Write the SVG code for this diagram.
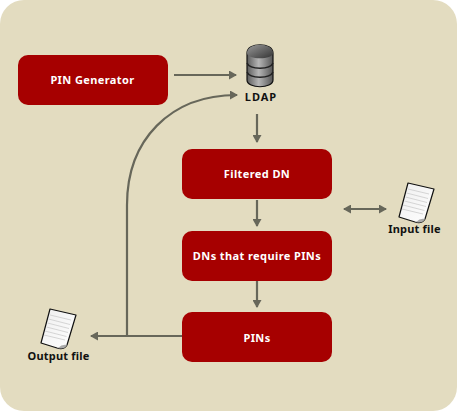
<svg xmlns="http://www.w3.org/2000/svg" width="457" height="411" viewBox="0 0 457 411">
<style>
.bg{fill:#e3dcc0}
.box{fill:#a60000}
.w{fill:#fff;font:bold 11px "Noto Sans",sans-serif;text-anchor:middle;letter-spacing:.4px}
.k{fill:#111;font:bold 11px "Noto Sans",sans-serif;text-anchor:middle;letter-spacing:.2px}
.c{fill:none;stroke:#67675a;stroke-width:2.200}
.line{fill:none;stroke:#ccc;stroke-width:.8}
.paper{fill:url(#pg);stroke:#111;stroke-width:1.200;stroke-linejoin:round}
</style>
<defs>
<marker id="a" viewBox="0 0 8 8" refX="7" refY="4" markerWidth="8" markerHeight="9" markerUnits="userSpaceOnUse" orient="auto-start-reverse" preserveAspectRatio="none"><path d="M0 0L8 4L0 8Z" fill="#67675a"/></marker>
<linearGradient id="pg" x1="0" y1="0" x2="1" y2="1"><stop offset="0" stop-color="#eee"/><stop offset="1" stop-color="#fff"/></linearGradient>
<linearGradient id="db" x1="0" y1="0" x2="1" y2="0"><stop offset="0" stop-color="#5c5c5c"/><stop offset=".45" stop-color="#b5b5b5"/><stop offset="1" stop-color="#555"/></linearGradient>
<linearGradient id="dt" x1="0" y1="0" x2="1" y2="1"><stop offset="0" stop-color="#999"/><stop offset="1" stop-color="#333"/></linearGradient>
<g id="doc"><path class="paper" d="M9 0L35 6L26 36Q23 41 16 39L0 34Z"/><path class="line" d="M9 6L30 11M7.500 10L29 15.500M6.500 14L28 19.500M5.500 18L27 23.500M4 22L25.500 27.500M3 26L24 31"/><path d="M17 39Q21 35 26 36Q23 41 17 39Z" fill="#aaa"/></g>
</defs>
<rect class="bg" width="457" height="411" rx="24"/>
<g id="connectors">
<path class="c" d="M174 75H236" marker-end="url(#a)"/>
<path class="c" d="M127 336V205C127 140 170 95 237 95" marker-end="url(#a)"/>
<path class="c" d="M257 114V142" marker-end="url(#a)"/>
<path class="c" d="M257 200V226" marker-end="url(#a)"/>
<path class="c" d="M257 281V307" marker-end="url(#a)"/>
<path class="c" d="M344 209H386" marker-start="url(#a)" marker-end="url(#a)"/>
<path class="c" d="M183 336H91" marker-end="url(#a)"/>
</g>
<g id="pin-generator"><rect class="box" x="18" y="55" width="150" height="50" rx="10"/><text class="w" x="92.500" y="84">PIN Generator</text></g>
<g id="ldap">
<path d="M247 53C247 42 273 42 273 53V80C273 89 247 89 247 80Z" fill="url(#db)" stroke="#111" stroke-width="1.200"/>
<path d="M247 53C247 42 273 42 273 53C273 60 247 60 247 53Z" fill="url(#dt)"/>
<path d="M247 63C250 70 270 70 273 63M247 72C250 79 270 79 273 72" fill="none" stroke="#222" stroke-width="1.500"/>
<text class="k" x="261" y="101" style="letter-spacing:1px">LDAP</text></g>
<g id="filtered-dn"><rect class="box" x="182" y="149" width="150" height="50" rx="10"/><text class="w" x="257" y="178">Filtered DN</text></g>
<g id="dns"><rect class="box" x="182" y="231" width="150" height="50" rx="10"/><text class="w" x="257" y="260">DNs that require PINs</text></g>
<g id="pins"><rect class="box" x="182" y="312" width="150" height="50" rx="10"/><text class="w" x="257" y="342">PINs</text></g>
<g id="input-file"><use href="#doc" x="399" y="183"/><text class="k" x="414.500" y="233">Input file</text></g>
<g id="output-file"><use href="#doc" x="41" y="309"/><text class="k" x="58.500" y="360">Output file</text></g>
</svg>
